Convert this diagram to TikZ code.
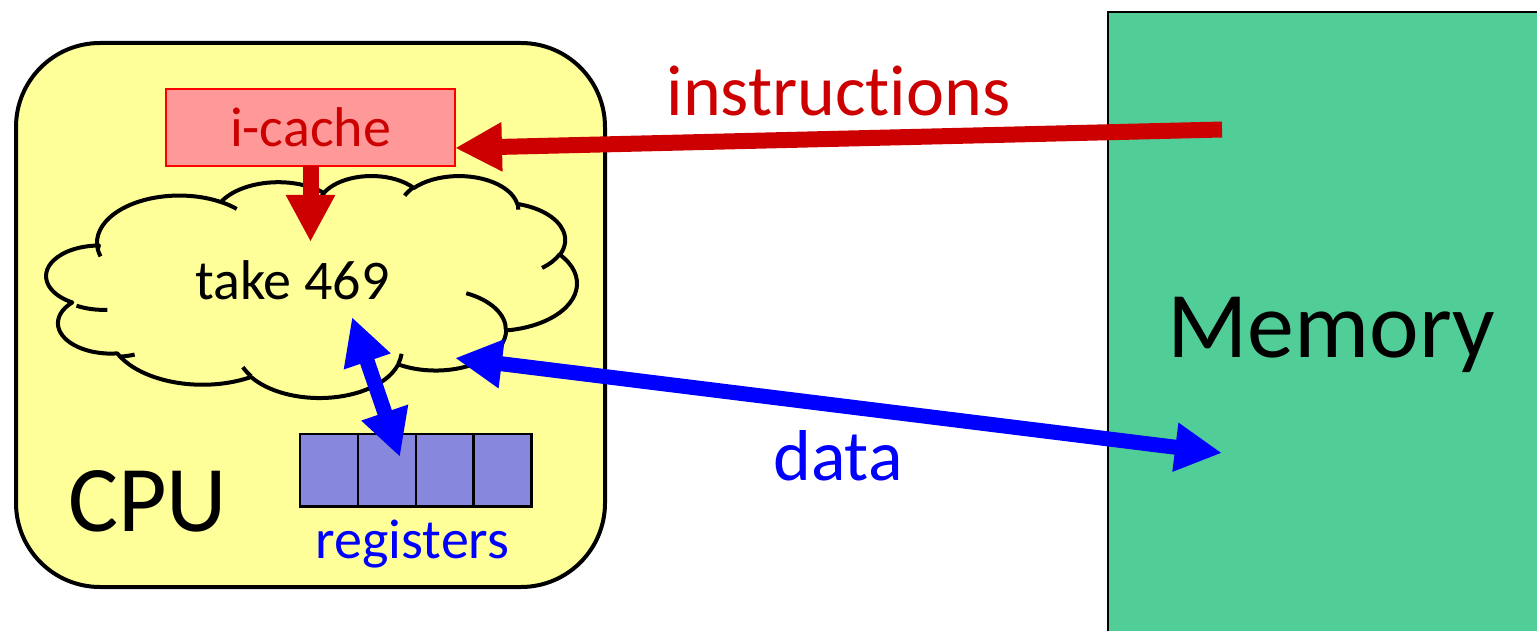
\documentclass[tikz,border=0pt]{standalone}
\usepackage{fontspec}
\setmainfont{Carlito}[Ligatures=NoCommon]
\usetikzlibrary{arrows.meta}

\definecolor{cpuyellow}{HTML}{FFFF99}
\definecolor{cachefill}{HTML}{FF9999}
\definecolor{cacheline}{HTML}{FF0000}
\definecolor{instred}{HTML}{CC0000}
\definecolor{datablue}{HTML}{0000FF}
\definecolor{regfill}{HTML}{8787DD}
\definecolor{memgreen}{HTML}{51CD97}

\makeatletter
% Elliptical arc given by visual start angle #4 and sweep #5 on radii #2,#3:
% stores the parametric start angle (\cw<name>s) and sweep (\cw<name>d).
\newcommand\cwdef[5]{%
  \pgfmathsetmacro\cw@s{atan2((#2)*sin(#4),(#3)*cos(#4))}%
  \pgfmathsetmacro\cw@e{atan2((#2)*sin(#4+#5),(#3)*cos(#4+#5))}%
  \pgfmathsetmacro\cw@d{mod(\cw@e-\cw@s+720,360)}%
  \expandafter\let\csname cw#1s\endcsname\cw@s
  \expandafter\let\csname cw#1d\endcsname\cw@d
}
\makeatother

% outline arcs of the cloud
\cwdef{A}{6.753}{9.190}{-190.48748}{123.78053}
\cwdef{B}{5.333}{7.267}{-144.10238}{89.94523}
\cwdef{C}{4.365}{5.945}{-145.80792}{99.72302}
\cwdef{D}{4.857}{6.595}{-130.98607}{117.24173}
\cwdef{E}{5.333}{7.273}{-78.70888}{109.02692}
\cwdef{F}{6.775}{9.220}{-46.26725}{130.269}
\cwdef{G}{5.785}{7.867}{0.62502}{114.03333}
\cwdef{H}{6.752}{9.215}{22.4516}{115.17255}
\cwdef{I}{7.720}{10.543}{66.24263}{81.3703}
\cwdef{J}{4.360}{5.918}{-274.94208}{146.73557}
\cwdef{K}{4.345}{5.945}{-246.8285}{156.75962}
% inner creases of the cloud
\cwdef{a}{4.345}{5.945}{86.742}{26.4295}
\cwdef{b}{4.360}{5.918}{73.61047}{11.44747}
\cwdef{c}{6.752}{9.215}{137.62415}{14.0811}
\cwdef{d}{6.752}{9.215}{6.45327}{15.99835}
\cwdef{e}{5.785}{7.867}{-70.29235}{70.9174}
\cwdef{f}{5.333}{7.273}{30.31803}{27.7515}
\cwdef{g}{4.857}{6.595}{-13.74433}{14.8589}
\cwdef{h}{4.857}{6.595}{-149.18145}{18.19537}
\cwdef{i}{4.365}{5.945}{-163.49427}{17.68635}
\cwdef{j}{6.753}{9.190}{-66.70695}{12.31935}
\cwdef{k}{6.753}{9.190}{157.65435}{11.85817}

\begin{document}
\begin{tikzpicture}[x=1pt, y=-1pt,
  smalltext/.style={font=\fontsize{56}{60}\selectfont, inner sep=0pt, anchor=base},
  midtext/.style={font=\fontsize{72}{76}\selectfont, inner sep=0pt, anchor=base},
  bigtext/.style={font=\fontsize{94}{98}\selectfont, inner sep=0pt, anchor=base},
  box/.style={rectangle, inner sep=0pt, outer sep=0pt},
  cloudedge/.style={draw=black, line width=4pt, line join=round},
  redarrow/.style={draw=instred, line width=16pt,
    -{Triangle[length=47pt, width=46pt]}},
  bluearrow/.style={draw=datablue, line width=15pt,
    {Triangle[length=47pt, width=46pt]}-{Triangle[length=47pt, width=46pt]}},
]
\useasboundingbox (0,0) rectangle (1537,631);

% memory block, running off the right and bottom edges
\begin{scope}
  \clip (0,0) rectangle (1537,631);
  \node[box, anchor=north west, fill=memgreen, draw=black, line width=2.6pt,
        minimum width=460pt, minimum height=660pt] (mem) at (1108,12) {};
\end{scope}
\node[bigtext] (memlabel) at (1331,357) {Memory};

% processor
\node[box, fill=cpuyellow, draw=black, line width=4pt, rounded corners=84pt,
      minimum width=589pt, minimum height=544pt] (cpu) at (310.5,315) {};
\node[bigtext] (cpulabel) at (147.5,531) {CPU};

% instruction cache
\node[box, fill=cachefill, draw=cacheline, line width=2pt,
      minimum width=289pt, minimum height=77pt] (ic) at (310.5,127.5) {};
\node[smalltext, text=instred] (iclabel) at (310.5,147) {i-cache};

% the cloud of work in progress
\begin{scope}[shift={(50.2,175.3)}, x=12.19pt, y=-5.137pt]
  \draw[cloudedge, fill=cpuyellow] (3.9,14.37)
    arc[x radius=6.753, y radius=9.190, start angle=\cwAs, delta angle=\cwAd]
    arc[x radius=5.333, y radius=7.267, start angle=\cwBs, delta angle=\cwBd]
    arc[x radius=4.365, y radius=5.945, start angle=\cwCs, delta angle=\cwCd]
    arc[x radius=4.857, y radius=6.595, start angle=\cwDs, delta angle=\cwDd]
    arc[x radius=5.333, y radius=7.273, start angle=\cwEs, delta angle=\cwEd]
    arc[x radius=6.775, y radius=9.220, start angle=\cwFs, delta angle=\cwFd]
    arc[x radius=5.785, y radius=7.867, start angle=\cwGs, delta angle=\cwGd]
    arc[x radius=6.752, y radius=9.215, start angle=\cwHs, delta angle=\cwHd]
    arc[x radius=7.720, y radius=10.543, start angle=\cwIs, delta angle=\cwId]
    arc[x radius=4.360, y radius=5.918, start angle=\cwJs, delta angle=\cwJd]
    arc[x radius=4.345, y radius=5.945, start angle=\cwKs, delta angle=\cwKd]
    -- cycle;
  \draw[cloudedge]
    (4.693,26.177) arc[x radius=4.345, y radius=5.945, start angle=\cwas, delta angle=\cwad]
    (6.928,34.899) arc[x radius=4.360, y radius=5.918, start angle=\cwbs, delta angle=\cwbd]
    (16.478,39.090) arc[x radius=6.752, y radius=9.215, start angle=\cwcs, delta angle=\cwcd]
    (28.827,34.751) arc[x radius=6.752, y radius=9.215, start angle=\cwds, delta angle=\cwdd]
    (34.129,22.954) arc[x radius=5.785, y radius=7.867, start angle=\cwes, delta angle=\cwed]
    (41.798,15.354) arc[x radius=5.333, y radius=7.273, start angle=\cwfs, delta angle=\cwfd]
    (38.324,5.426) arc[x radius=4.857, y radius=6.595, start angle=\cwgs, delta angle=\cwgd]
    (29.078,3.952) arc[x radius=4.857, y radius=6.595, start angle=\cwhs, delta angle=\cwhd]
    (22.141,4.720) arc[x radius=4.365, y radius=5.945, start angle=\cwis, delta angle=\cwid]
    (14.000,5.192) arc[x radius=6.753, y radius=9.190, start angle=\cwjs, delta angle=\cwjd]
    (4.127,15.789) arc[x radius=6.753, y radius=9.190, start angle=\cwks, delta angle=\cwkd];
\end{scope}
\node[smalltext] (prog) at (292.5,299) {take 469};

% register file
\foreach \k in {1,2,3,4}
  \node[box, fill=regfill, draw=black, line width=2.6pt,
        minimum width=57.92pt, minimum height=72.7pt]
        (r\k) at ({300+28.96+(\k-1)*57.92},470.4) {};
\node[smalltext, text=datablue] (reglabel) at (412.5,558) {registers};

% connector end points
\coordinate (memout) at (1222,129.5);
\coordinate (icin) at (455,148);
\coordinate (decode) at (310.5,242);
\coordinate (cloudport) at (455,358);
\coordinate (memport) at (1222,453);
\coordinate (cloudreg) at (352,317);
\coordinate (regport) at (400,457);

% connectors
\draw[redarrow] (memout) -- (icin);
\draw[redarrow] (ic.south -| decode) -- (decode);
\draw[bluearrow] (cloudport) -- (memport);
\draw[bluearrow] (cloudreg) -- (regport);

% connector labels
\node[midtext, text=instred] (instlabel) at (838.5,116) {instructions};
\node[midtext, text=datablue] (datalabel) at (838,480) {data};
\end{tikzpicture}
\end{document}
